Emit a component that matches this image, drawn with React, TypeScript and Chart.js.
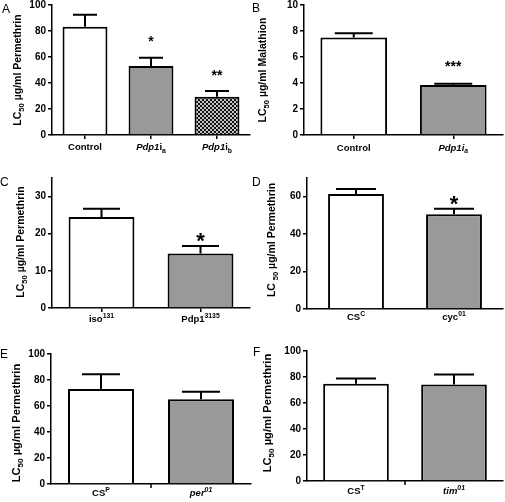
import React, { useEffect, useRef } from "react";
import { Chart, registerables } from "chart.js";

Chart.register(...registerables);

type Seg = { t: string; i?: boolean; sub?: boolean; sup?: boolean };

const FONT = "'Liberation Sans', Arial, Helvetica, sans-serif";

// ---------- Panel A ----------
const catsA = ["Control", "Pdp1ia", "Pdp1ib"];
const tickLabelsA: Seg[][] = [
  [{ t: "Control" }],
  [{ t: "Pdp1", i: true }, { t: "i" }, { t: "a", sub: true }],
  [{ t: "Pdp1", i: true }, { t: "i" }, { t: "b", sub: true }],
];
const valuesA = [83.3, 53.1, 29.5];
const errorsA = [9.2, 6.4, 4.3];
const starsA = ["", "*", "**"];
const yTitleA: Seg[] = [{ t: "LC" }, { t: "50", sub: true }, { t: " µg/ml Permethrin" }];

// ---------- Panel B ----------
const catsB = ["Control", "Pdp1ia"];
const tickLabelsB: Seg[][] = [
  [{ t: "Control" }],
  [{ t: "Pdp1i", i: true }, { t: "a", sub: true, i: true }],
];
const valuesB = [7.5, 3.85];
const errorsB = [0.32, 0.1];
const starsB = ["", "***"];
const yTitleB: Seg[] = [{ t: "LC" }, { t: "50", sub: true }, { t: " µg/ml Malathion" }];

// ---------- Panel C ----------
const catsC = ["iso131", "Pdp13135"];
const tickLabelsC: Seg[][] = [
  [{ t: "iso" }, { t: "131", sup: true }],
  [{ t: "Pdp1" }, { t: "3135", sup: true }],
];
const valuesC = [24.5, 14.7];
const errorsC = [2.2, 2.0];
const starsC = ["", "*"];
const yTitleC: Seg[] = [{ t: "LC" }, { t: "50", sub: true }, { t: " µg/ml Permethrin" }];

// ---------- Panel D ----------
const catsD = ["CSC", "cyc01"];
const tickLabelsD: Seg[][] = [
  [{ t: "CS" }, { t: "C", sup: true }],
  [{ t: "cyc" }, { t: "01", sup: true }],
];
const valuesD = [61.4, 50.6];
const errorsD = [2.7, 3.0];
const starsD = ["", "*"];
const yTitleD: Seg[] = [{ t: "LC " }, { t: "50", sub: true }, { t: " µg/ml Permethrin" }];

// ---------- Panel E ----------
const catsE = ["CSP", "per01"];
const tickLabelsE: Seg[][] = [
  [{ t: "CS" }, { t: "P", sup: true }],
  [{ t: "per", i: true }, { t: "01", sup: true, i: true }],
];
const valuesE = [73.0, 65.2];
const errorsE = [11.4, 5.8];
const starsE = ["", ""];
const yTitleE: Seg[] = [{ t: "LC" }, { t: "50", sub: true }, { t: " µg/ml Permethrin" }];

// ---------- Panel F ----------
const catsF = ["CST", "tim01"];
const tickLabelsF: Seg[][] = [
  [{ t: "CS" }, { t: "T", sup: true }],
  [{ t: "tim", i: true }, { t: "01", sup: true, i: true }],
];
const valuesF = [74.9, 74.2];
const errorsF = [3.9, 7.8];
const starsF = ["", ""];
const yTitleF: Seg[] = [{ t: "LC" }, { t: "50", sub: true }, { t: " µg/ml Permethrin" }];

const WHITE = "#ffffff";
const GRAY = "#999999";

interface PanelCfg {
  letter: string;
  letterX: number;
  letterY: number;
  area: { l: number; t: number; r: number; b: number };
  yMax: number;
  yStep: number;
  cats: string[];
  labels: Seg[][];
  values: number[];
  errors: number[];
  stars: string[];
  fills: string[];
  barPct: number;
  capW: number;
  starSize: number;
  starGap: number;
  title: Seg[];
  titleX: number;
  titleY: number;
  titleSize: number;
  labelY: number;
  catTicks: boolean;
  midTick: boolean;
}

const panels: PanelCfg[] = [
  {
    letter: "A", letterX: 2, letterY: 13,
    area: { l: 52, t: 5, r: 250, b: 135 },
    yMax: 100, yStep: 20,
    cats: catsA, labels: tickLabelsA, values: valuesA, errors: errorsA, stars: starsA,
    fills: [WHITE, GRAY, "pattern"],
    barPct: 0.68, capW: 24, starSize: 14, starGap: 19.5,
    title: yTitleA, titleX: 21, titleY: 70, titleSize: 10.5,
    labelY: 150, catTicks: true, midTick: false,
  },
  {
    letter: "B", letterX: 252, letterY: 12,
    area: { l: 304, t: 5, r: 503, b: 135 },
    yMax: 10, yStep: 2,
    cats: catsB, labels: tickLabelsB, values: valuesB, errors: errorsB, stars: starsB,
    fills: [WHITE, GRAY],
    barPct: 0.67, capW: 38, starSize: 14, starGap: 20.5,
    title: yTitleB, titleX: 266, titleY: 70, titleSize: 10.5,
    labelY: 150.5, catTicks: true, midTick: false,
  },
  {
    letter: "C", letterX: 0, letterY: 186,
    area: { l: 52, t: 178, r: 250, b: 308 },
    yMax: 35, yStep: 10,
    cats: catsC, labels: tickLabelsC, values: valuesC, errors: errorsC, stars: starsC,
    fills: [WHITE, GRAY],
    barPct: 0.665, capW: 37, starSize: 22, starGap: 10.7,
    title: yTitleC, titleX: 24, titleY: 242, titleSize: 10.5,
    labelY: 322, catTicks: true, midTick: false,
  },
  {
    letter: "D", letterX: 252, letterY: 186,
    area: { l: 307, t: 178, r: 503, b: 309 },
    yMax: 70, yStep: 20,
    cats: catsD, labels: tickLabelsD, values: valuesD, errors: errorsD, stars: starsD,
    fills: [WHITE, GRAY],
    barPct: 0.57, capW: 40, starSize: 22, starGap: 10.4,
    title: yTitleD, titleX: 275, titleY: 240, titleSize: 10.5,
    labelY: 320, catTicks: false, midTick: false,
  },
  {
    letter: "E", letterX: 0, letterY: 358,
    area: { l: 51, t: 354, r: 251, b: 484 },
    yMax: 100, yStep: 20,
    cats: catsE, labels: tickLabelsE, values: valuesE, errors: errorsE, stars: starsE,
    fills: [WHITE, GRAY],
    barPct: 0.66, capW: 38, starSize: 14, starGap: 20,
    title: yTitleE, titleX: 19.5, titleY: 423, titleSize: 11.2,
    labelY: 496, catTicks: false, midTick: true,
  },
  {
    letter: "F", letterX: 253, letterY: 356,
    area: { l: 307, t: 351, r: 503, b: 481 },
    yMax: 100, yStep: 20,
    cats: catsF, labels: tickLabelsF, values: valuesF, errors: errorsF, stars: starsF,
    fills: [WHITE, GRAY],
    barPct: 0.67, capW: 40, starSize: 14, starGap: 20,
    title: yTitleF, titleX: 271, titleY: 413, titleSize: 11.2,
    labelY: 494, catTicks: false, midTick: true,
  },
];

function segFont(s: Seg, size: number) {
  const sz = s.sub || s.sup ? size * 0.72 : size;
  return `${s.i ? "italic " : ""}bold ${sz}px ${FONT}`;
}

function drawRich(ctx: CanvasRenderingContext2D, segs: Seg[], cx: number, y: number, size: number) {
  let total = 0;
  const widths = segs.map((s) => {
    ctx.font = segFont(s, size);
    const w = ctx.measureText(s.t).width;
    total += w;
    return w;
  });
  let x = cx - total / 2;
  ctx.textAlign = "left";
  ctx.textBaseline = "alphabetic";
  segs.forEach((s, k) => {
    ctx.font = segFont(s, size);
    const dy = s.sub ? size * 0.3 : s.sup ? -size * 0.45 : 0;
    ctx.fillText(s.t, x, y + dy);
    x += widths[k];
  });
}

const PAD_L = 60;
const PAD_T = 20;
const PAD_R = 3;
const PAD_B = 24;
const Y_W = 30;

function Panel({ cfg }: { cfg: PanelCfg }) {
  const ref = useRef<HTMLCanvasElement>(null);
  const left = cfg.area.l - PAD_L;
  const top = cfg.area.t - PAD_T;
  const width = cfg.area.r + PAD_R - left;
  const height = cfg.area.b + PAD_B - top;

  useEffect(() => {
    const canvas = ref.current!;
    const ctx0 = canvas.getContext("2d")!;
    const pc = document.createElement("canvas");
    pc.width = 4;
    pc.height = 4;
    const p = pc.getContext("2d")!;
    p.fillStyle = "#c4c4c4";
    p.fillRect(0, 0, 4, 4);
    p.fillStyle = "#111111";
    p.fillRect(0, 0, 2, 2);
    p.fillRect(2, 2, 2, 2);
    const pattern = ctx0.createPattern(pc, "repeat");
    const bg = cfg.fills.map((f) => (f === "pattern" ? pattern : f));

    const overlay = {
      id: "overlay",
      afterDraw(chart: any) {
        const ctx: CanvasRenderingContext2D = chart.ctx;
        const ca = chart.chartArea;
        const meta = chart.getDatasetMeta(0);
        const yS = chart.scales.y;
        ctx.save();
        ctx.strokeStyle = "#000";
        ctx.fillStyle = "#000";
        // error bars + stars
        cfg.values.forEach((v, i) => {
          const el = meta.data[i];
          const x = el.x;
          const yTop = el.y;
          const ye = yS.getPixelForValue(v + cfg.errors[i]);
          ctx.lineWidth = 2;
          ctx.beginPath();
          ctx.moveTo(x, yTop);
          ctx.lineTo(x, ye);
          ctx.moveTo(x - cfg.capW / 2, ye);
          ctx.lineTo(x + cfg.capW / 2, ye);
          ctx.stroke();
          const st = cfg.stars[i];
          if (st) {
            ctx.font = `bold ${cfg.starSize}px ${FONT}`;
            ctx.textAlign = "center";
            ctx.textBaseline = "alphabetic";
            const cy = ye - cfg.starGap;
            ctx.fillText(st, x, cy + cfg.starSize * 0.59);
          }
          // category label
          drawRich(ctx, cfg.labels[i], x, cfg.labelY - top, 9.5);
        });
        // mid tick
        if (cfg.midTick) {
          const mx = (ca.left + ca.right) / 2;
          ctx.lineWidth = 1.5;
          ctx.beginPath();
          ctx.moveTo(mx, ca.bottom);
          ctx.lineTo(mx, ca.bottom + 4);
          ctx.stroke();
        }
        // y title
        ctx.save();
        ctx.translate(cfg.titleX - left, cfg.titleY - top);
        ctx.rotate(-Math.PI / 2);
        drawRich(ctx, cfg.title, 0, 0, cfg.titleSize);
        ctx.restore();
        // panel letter
        ctx.font = `12px ${FONT}`;
        ctx.textAlign = "left";
        ctx.textBaseline = "alphabetic";
        ctx.fillText(cfg.letter, cfg.letterX - left, cfg.letterY - top);
        ctx.restore();
      },
    };

    const chart = new Chart(canvas, {
      type: "bar",
      data: {
        labels: cfg.cats,
        datasets: [
          {
            data: cfg.values,
            backgroundColor: bg as any,
            borderColor: "#000",
            borderWidth: 2,
            barPercentage: cfg.barPct,
            categoryPercentage: 1,
          },
        ],
      },
      options: {
        responsive: false,
        animation: false,
        devicePixelRatio: 1,
        layout: { padding: { left: PAD_L - Y_W, top: PAD_T, right: PAD_R, bottom: PAD_B } },
        plugins: {
          legend: { display: false },
          tooltip: { enabled: false },
          title: { display: false },
        },
        scales: {
          x: {
            type: "category",
            offset: true,
            z: 1,
            grid: {
              display: true,
              drawOnChartArea: false,
              drawTicks: cfg.catTicks,
              tickLength: 4,
              offset: false,
              color: "#000",
              lineWidth: 1.5,
            },
            border: { display: true, color: "#000", width: 1.5 },
            ticks: { display: false },
            afterFit: (s: any) => {
              s.height = 0;
            },
          },
          y: {
            min: 0,
            max: cfg.yMax,
            z: 1,
            grid: {
              drawOnChartArea: false,
              drawTicks: true,
              tickLength: 4,
              color: "#000",
              lineWidth: 1.5,
            },
            border: { display: true, color: "#000", width: 1.5 },
            ticks: {
              stepSize: cfg.yStep,
              includeBounds: false,
              color: "#000",
              padding: 2,
              font: { family: FONT, size: 10, weight: "bold" },
            },
            afterFit: (s: any) => {
              s.width = Y_W;
            },
          },
        },
      } as any,
      plugins: [overlay],
    });
    return () => chart.destroy();
  }, [cfg]);

  return (
    <canvas
      ref={ref}
      width={width}
      height={height}
      style={{ position: "absolute", left, top, width, height }}
    />
  );
}

export default function App() {
  return (
    <div
      style={{
        position: "absolute",
        left: 0,
        top: 0,
        width: 505,
        height: 502,
        overflow: "hidden",
        background: "#fff",
      }}
    >
      {panels.map((p) => (
        <Panel key={p.letter} cfg={p} />
      ))}
    </div>
  );
}
